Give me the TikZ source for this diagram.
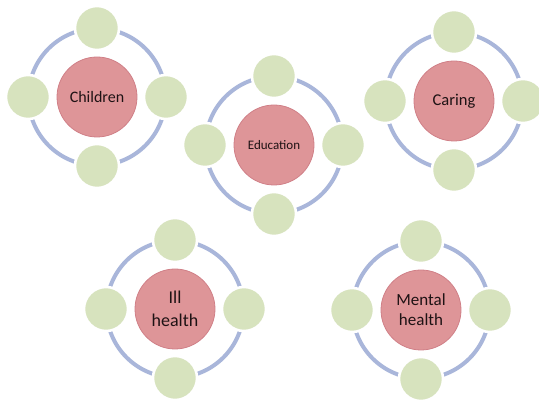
\documentclass[tikz,border=0pt]{standalone}
\usepackage{fontspec}
\setmainfont{Carlito}
\definecolor{hubfill}{HTML}{DE9598}
\definecolor{hubline}{HTML}{D08088}
\definecolor{satfill}{HTML}{D7E3BE}
\definecolor{ringcol}{HTML}{A9B6DA}
\definecolor{txtcol}{HTML}{1E1214}
\tikzset{
  hub/.style={circle, fill=hubfill, draw=hubline, line width=0.8pt, minimum size=80pt, inner sep=0pt, align=center, text=txtcol},
  sat/.style={circle, fill=satfill, draw=white, line width=2.5pt, minimum size=44pt, inner sep=0pt},
  ring/.style={draw=ringcol, line width=4pt}
}
\newcommand{\mycluster}[5]{%
  \node[hub, font=#5] (#1) at (#2,#3) {#4};
  \draw[ring] (#1.center) circle (68.5);
  \node[sat] (#1-n) at ($(#1.center)+(0,-69)$) {};
  \node[sat] (#1-s) at ($(#1.center)+(0,69)$) {};
  \node[sat] (#1-w) at ($(#1.center)+(-69,0)$) {};
  \node[sat] (#1-e) at ($(#1.center)+(69,0)$) {};
}
\usetikzlibrary{calc}
\begin{document}
\begin{tikzpicture}[x=1pt, y=-1pt]
\useasboundingbox (0,0) rectangle (539,403);
\mycluster{children}{97}{97}{Children}{\fontsize{16}{18}\selectfont}
\mycluster{education}{274}{145}{Education}{\fontsize{13}{15}\selectfont}
\mycluster{caring}{454}{101}{Caring}{\fontsize{16.5}{19}\selectfont}
\mycluster{ill}{175}{309}{Ill\\health}{\fontsize{18}{23}\selectfont}
\mycluster{mental}{421}{310}{Mental\\health}{\fontsize{17}{20}\selectfont}
\end{tikzpicture}
\end{document}
